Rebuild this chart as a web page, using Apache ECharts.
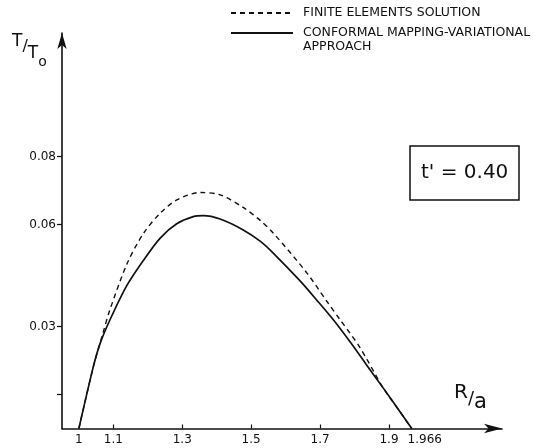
<!DOCTYPE html>
<html><head><meta charset="utf-8">
<script src="https://cdn.jsdelivr.net/npm/echarts@6/dist/echarts.min.js"></script>
<style>html,body{margin:0;padding:0;background:#fff}#c{width:548px;height:448px}</style>
</head><body><div id="c"></div>
<script>
// Data
const xSolid = [1.0, 1.042, 1.062, 1.09, 1.139, 1.187, 1.236, 1.284, 1.332, 1.361, 1.41, 1.477, 1.526, 1.564, 1.642, 1.69, 1.739, 1.787, 1.835, 1.884, 1.932, 1.966];
const ySolid = [0, 0.0182, 0.0251, 0.0319, 0.042, 0.0494, 0.056, 0.0602, 0.0623, 0.0626, 0.0616, 0.0584, 0.0551, 0.0516, 0.0434, 0.0378, 0.0319, 0.0255, 0.0187, 0.0118, 0.0049, 0];
const xDashed = [1.0, 1.042, 1.07, 1.09, 1.14, 1.187, 1.236, 1.284, 1.352, 1.41, 1.477, 1.526, 1.564, 1.662, 1.719, 1.758, 1.787, 1.811, 1.835, 1.884, 1.932, 1.966];
const yDashed = [0, 0.0182, 0.0281, 0.0349, 0.0485, 0.0573, 0.0633, 0.0672, 0.0694, 0.0687, 0.065, 0.0612, 0.0575, 0.0457, 0.0375, 0.032, 0.028, 0.0246, 0.0205, 0.0118, 0.0049, 0];
const xTickValues = [1.1, 1.3, 1.5, 1.7, 1.9];
const xLabelValues = [1, 1.1, 1.3, 1.5, 1.7, 1.9, 1.966];
const yTickValues = [0.01, 0.03, 0.06, 0.08];
const yLabelValues = [0.03, 0.06, 0.08];
const seriesNames = ['FINITE ELEMENTS SOLUTION', 'CONFORMAL MAPPING-VARIATIONAL APPROACH'];
const boxLabel = "t' = 0.40";

const INK = '#111';
const FONT = 'DejaVu Sans';
const zip = (xs, ys) => xs.map((x, i) => [x, ys[i]]);

const chart = echarts.init(document.getElementById('c'), null, {renderer: 'canvas'});
chart.setOption({
  animation: false,
  backgroundColor: '#fff',
  grid: {left: 62, right: 46, top: 33, bottom: 19.5, containLabel: false},
  title: {
    text: boxLabel, left: 410, top: 146,
    borderWidth: 1.5, borderColor: INK, padding: [15, 11, 15, 11],
    textStyle: {fontSize: 20, fontFamily: FONT, fontWeight: 'normal', color: INK, lineHeight: 24}
  },
  legend: [
    {
      data: [seriesNames[0]], left: 230, top: 6, padding: 0,
      itemWidth: 62, itemHeight: 14, selectedMode: false,
      itemStyle: {opacity: 0},
      textStyle: {fontSize: 12.5, fontFamily: FONT, color: INK, lineHeight: 14, padding: [0, 0, 0, 5]}
    },
    {
      data: [seriesNames[1]], left: 230, top: 12, padding: 0,
      itemWidth: 62, itemHeight: 14, selectedMode: false,
      itemStyle: {opacity: 0},
      formatter: n => ' \n' + n.replace(' APPROACH', '\nAPPROACH'),
      textStyle: {fontSize: 12.5, fontFamily: FONT, color: INK, lineHeight: 14, padding: [0, 0, 0, 5]}
    }
  ],
  xAxis: {
    type: 'value', min: 0.951, max: 2.228,
    splitLine: {show: false},
    axisLine: {show: true, onZero: false, symbol: ['none', 'arrow'], symbolSize: [7, 18], lineStyle: {color: INK, width: 1.6}},
    axisTick: {show: true, inside: true, length: 4, customValues: xTickValues, lineStyle: {color: INK, width: 1.2}},
    axisLabel: {
      customValues: xLabelValues, margin: 5, color: INK, fontSize: 12, fontFamily: FONT,
      formatter: v => (v === 1.966 ? '{r|1.966}' : String(v)),
      rich: {r: {padding: [0, 0, 0, 26], fontSize: 12, fontFamily: FONT, color: INK}}
    }
  },
  yAxis: {
    type: 'value', min: 0, max: 0.1163,
    splitLine: {show: false},
    axisLine: {show: true, onZero: false, symbol: ['none', 'arrow'], symbolSize: [7, 16], lineStyle: {color: INK, width: 1.6}},
    axisTick: {show: true, inside: false, length: 5, customValues: yTickValues, lineStyle: {color: INK, width: 1.2}},
    axisLabel: {customValues: yLabelValues, margin: 6, color: INK, fontSize: 12, fontFamily: FONT, formatter: v => v.toFixed(2)}
  },
  series: [
    {
      name: seriesNames[0], type: 'line', smooth: 0.3, symbol: 'none', color: INK,
      lineStyle: {color: INK, width: 1.4, type: [5, 4]},
      data: zip(xDashed, yDashed)
    },
    {
      name: seriesNames[1], type: 'line', smooth: 0.3, symbol: 'none', color: INK,
      lineStyle: {color: INK, width: 1.7, type: 'solid'},
      data: zip(xSolid, ySolid)
    }
  ],
  graphic: [
    {
      type: 'text', left: 12, top: 33,
      style: {
        text: '{a|T}{b|/}{c|T}{d|o}', fill: INK,
        rich: {
          a: {fontSize: 17, fontFamily: FONT, fill: INK, height: 16, verticalAlign: 'top'},
          b: {fontSize: 16, fontFamily: FONT, fill: INK, height: 26, verticalAlign: 'top'},
          c: {fontSize: 17, fontFamily: FONT, fill: INK, height: 40, verticalAlign: 'top'},
          d: {fontSize: 14, fontFamily: FONT, fill: INK, height: 58, verticalAlign: 'top'}
        }
      }
    },
    {
      type: 'text', left: 454, top: 383,
      style: {
        text: '{a|R}{b|/}{c|a}', fill: INK,
        rich: {
          a: {fontSize: 20, fontFamily: FONT, fill: INK, height: 20, verticalAlign: 'top'},
          b: {fontSize: 18, fontFamily: FONT, fill: INK, height: 32, verticalAlign: 'top'},
          c: {fontSize: 21, fontFamily: FONT, fill: INK, height: 40, verticalAlign: 'top'}
        }
      }
    }
  ]
});
</script>
</body></html>
